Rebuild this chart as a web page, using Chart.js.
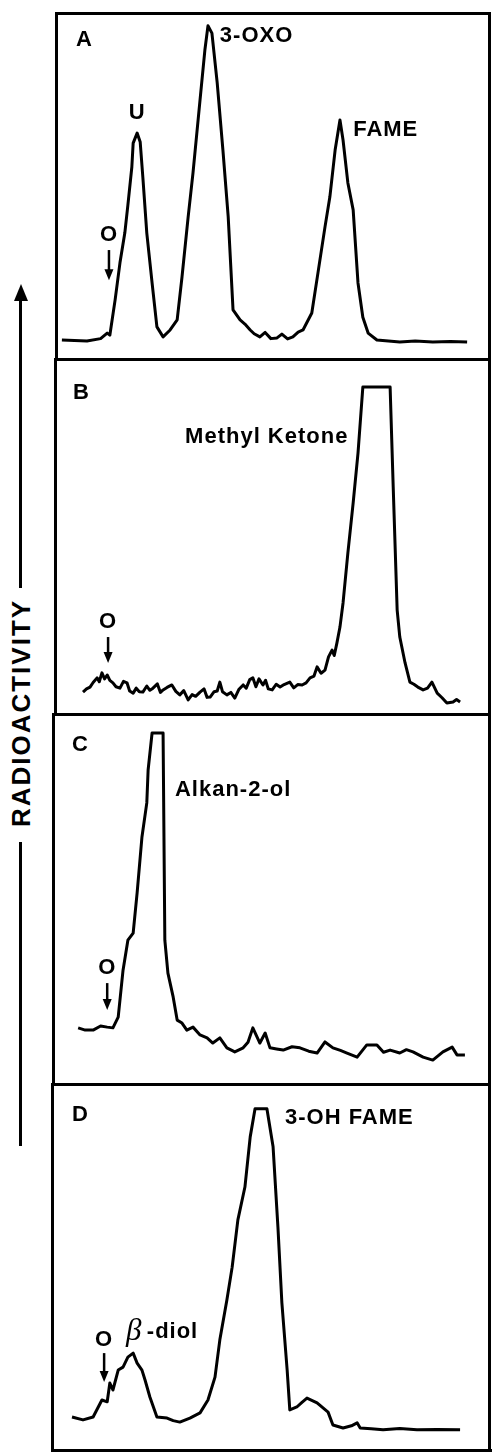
<!DOCTYPE html>
<html>
<head>
<meta charset="utf-8">
<script src="https://cdn.jsdelivr.net/npm/chart.js@4.4.0/dist/chart.umd.min.js"></script>
<style>
  body { margin: 0; background: #fff; width: 492px; height: 1454px; position: relative; overflow: hidden; }
  canvas { position: absolute; }
  .shaft { position: absolute; left: 19px; width: 3px; background: #000; }
  .head { position: absolute; left: 13.5px; top: 284px; width: 0; height: 0;
          border-left: 7px solid transparent; border-right: 7px solid transparent; border-bottom: 17px solid #000; }
  .ylabel { position: absolute; left: 21px; top: 713px; transform: translate(-50%, -50%) rotate(-90deg);
            font: bold 26px "Liberation Sans", Arial, sans-serif; letter-spacing: 2px; white-space: nowrap; color: #000; }
</style>
</head>
<body>

<div class="head"></div>
<div class="shaft" style="top:298px;height:290px"></div>
<div class="ylabel">RADIOACTIVITY</div>
<div class="shaft" style="top:842px;height:304px"></div>

<canvas id="panelA"></canvas>
<canvas id="panelB"></canvas>
<canvas id="panelC"></canvas>
<canvas id="panelD"></canvas>

<script>
/* radioactivity scans: x = distance migrated (0-100), y = relative counts (0-100 of panel) */

// A : U, 3-OXO, FAME
const aDist = [2.7, 8.4, 11.5, 13.0, 13.6, 14.8, 15.9, 17.0, 17.7, 18.6, 18.9, 19.8, 20.5, 21.1, 22.0, 23.2, 24.3, 25.7,
  27.3, 28.9, 30.0, 31.4, 32.5, 34.1, 35.2, 35.9, 36.8, 38.0, 39.3, 40.5, 41.6, 43.2, 44.3, 45.5, 46.4, 47.7, 48.9,
  50.2, 51.6, 52.7, 54.0, 55.2, 56.4, 57.5, 59.5, 60.9, 62.5, 63.6, 64.8, 65.9, 66.6, 67.7, 68.9, 70.0, 71.1, 72.3,
  74.3, 79.5, 83.0, 87.0, 91.0, 94.8];
const aCounts = [5.2, 4.9, 5.6, 7.2, 6.6, 16.8, 27.5, 36.1, 44.2, 55.2, 62.1, 65.0, 62.4, 52.3, 36.1, 21.7, 9.0, 6.1,
  8.1, 11.0, 23.4, 40.8, 53.5, 74.6, 89.0, 96.0, 93.9, 79.5, 60.1, 40.8, 13.9, 11.0, 9.8, 8.1, 7.0, 6.1, 7.4,
  5.6, 5.8, 6.9, 5.5, 6.1, 7.5, 8.1, 13.0, 24.6, 37.9, 46.5, 60.1, 68.8, 63.0, 50.6, 42.8, 21.7, 11.8, 7.2,
  5.2, 4.6, 4.9, 4.6, 4.8, 4.6];

// B : Methyl Ketone (off scale)
const bDist = [7.5, 8.3, 9.1, 9.8, 10.7, 11.2, 11.8, 12.4, 13.0, 13.6, 14.3, 15.0, 15.9, 16.7, 17.5, 18.1, 18.9, 19.6,
  20.3, 21.1, 22.0, 22.7, 23.4, 24.4, 25.1, 25.7, 26.6, 27.7, 28.6, 29.5, 30.4, 31.4, 32.3, 33.1, 34.1, 35.0, 35.7,
  36.4, 37.3, 38.0, 38.6, 39.2, 40.2, 41.1, 42.0, 42.9, 43.9, 44.6, 45.4, 46.1, 46.8, 47.5, 48.4, 49.0, 49.6, 50.5,
  51.4, 52.3, 53.2, 54.5, 55.4, 56.3, 57.3, 58.2, 59.1, 60.0, 60.7, 61.6, 62.5, 63.3, 64.1, 64.6, 65.2, 65.9, 66.6,
  67.7, 68.9, 70.0, 71.1, 77.3, 78.0, 78.9, 79.5, 80.7, 81.8, 82.7, 83.6, 84.8, 85.8, 86.8, 88.0, 89.1, 90.2, 91.6,
  92.4, 93.2];
const bCounts = [5.9, 6.8, 7.3, 8.6, 9.9, 8.8, 11.3, 9.6, 10.7, 9.2, 8.5, 7.4, 7.0, 8.9, 8.5, 6.2, 5.6, 7.0,
  6.0, 5.9, 7.6, 6.4, 7.0, 8.2, 5.8, 6.5, 7.2, 7.9, 6.1, 5.1, 6.3, 3.7, 5.2, 4.7, 5.9, 6.8, 4.4,
  4.5, 6.0, 6.2, 8.7, 6.0, 5.1, 5.8, 4.2, 6.6, 7.9, 7.0, 9.4, 9.9, 7.4, 9.6, 7.9, 9.2, 6.8, 6.5,
  8.1, 7.3, 8.0, 8.7, 7.1, 8.0, 7.9, 8.5, 9.9, 10.4, 13.0, 11.2, 12.1, 15.8, 17.7, 16.2, 19.7, 24.2, 31.0,
  45.1, 59.2, 73.2, 91.8, 91.8, 63.7, 29.0, 21.4, 14.1, 8.7, 8.1, 7.3, 6.5, 7.0, 8.7, 5.6, 4.3, 2.8, 3.1,
  3.8, 3.1];

// C : Alkan-2-ol (off scale)
const cDist = [6.4, 8.0, 9.8, 11.5, 13.0, 14.3, 15.5, 16.6, 17.7, 18.9, 19.8, 20.9, 22.0, 22.3, 23.2, 25.7, 26.1, 26.8,
  28.0, 28.9, 30.0, 31.1, 32.5, 34.1, 35.7, 37.0, 38.6, 40.2, 42.0, 43.9, 45.0, 46.1, 47.7, 48.9, 50.0, 51.5, 53.0,
  55.0, 56.8, 58.8, 60.7, 62.5, 64.3, 66.0, 67.5, 69.8, 72.0, 74.3, 75.8, 77.3, 79.5, 81.0, 82.5, 84.8, 87.0, 89.3,
  91.4, 92.5, 94.3];
const cCounts = [14.9, 14.3, 14.3, 15.4, 15.1, 14.9, 17.8, 30.5, 38.6, 40.5, 51.4, 66.5, 75.7, 84.6, 94.6, 94.6, 38.6, 29.7,
  23.2, 17.0, 16.2, 14.3, 15.1, 13.0, 12.2, 10.8, 12.2, 9.5, 8.4, 9.5, 11.0, 14.9, 10.8, 13.5, 9.5, 9.2, 8.9,
  9.8, 9.5, 8.6, 8.1, 11.1, 9.5, 8.8, 8.1, 7.0, 10.3, 10.3, 8.3, 8.9, 8.1, 9.0, 8.4, 7.0, 6.2, 8.4,
  9.7, 7.6, 7.6];

// D : beta-diol, 3-OH FAME (off scale)
const dDist = [5.0, 7.5, 9.8, 11.8, 13.0, 13.6, 14.3, 15.5, 16.6, 17.7, 18.9, 19.8, 20.9, 21.6, 22.7, 24.3, 26.6, 28.0,
  29.5, 31.8, 34.1, 35.9, 37.5, 38.6, 40.2, 41.4, 42.7, 44.3, 45.5, 46.6, 49.3, 50.7, 51.8, 52.7, 53.9, 54.5, 56.1,
  57.2, 58.4, 60.7, 63.2, 64.3, 66.6, 68.5, 69.8, 70.5, 73.0, 75.7, 79.5, 83.4, 88.0, 93.2];
const dCounts = [9.5, 8.7, 9.5, 14.1, 13.6, 18.7, 16.8, 22.2, 23.0, 25.7, 26.8, 24.1, 22.2, 19.5, 14.9, 9.5, 9.2, 8.5,
  8.1, 9.2, 10.6, 14.1, 20.3, 30.4, 41.2, 50.1, 62.9, 71.8, 85.4, 93.0, 93.0, 82.7, 61.0, 40.4, 22.2, 11.4, 12.2,
  13.4, 14.6, 13.3, 10.8, 7.3, 6.5, 7.1, 7.9, 6.5, 6.3, 6.0, 6.4, 6.0, 6.1, 6.0];

// panel boxes on the page
const panels = [
  { id: 'panelA', left: 55, top: 12, bottom: 358, x: aDist, y: aCounts, closeBottom: false,
    notes: [
      { t: 'A', x: 5.9, y: 91.9 },
      { t: '3-OXO', x: 38.6, y: 93.1 },
      { t: 'U', x: 19.8, y: 70.8, align: 'center' },
      { t: 'FAME', x: 68.9, y: 65.9 },
      { t: 'O', x: 13.4, y: 35.5, align: 'center' }
    ],
    arrow: { x: 13.4, from: 31.2, to: 22.5 } },
  { id: 'panelB', left: 54, top: 358, bottom: 713, x: bDist, y: bCounts, closeBottom: false,
    notes: [
      { t: 'B', x: 5.2, y: 90.1 },
      { t: 'Methyl Ketone', x: 30.7, y: 77.7 },
      { t: 'O', x: 13.2, y: 25.6, align: 'center' }
    ],
    arrow: { x: 13.2, from: 21.4, to: 14.1 } },
  { id: 'panelC', left: 52, top: 713, bottom: 1083, x: cDist, y: cCounts, closeBottom: false,
    notes: [
      { t: 'C', x: 5.0, y: 91.4 },
      { t: 'Alkan-2-ol', x: 28.4, y: 79.2 },
      { t: 'O', x: 13.0, y: 31.1, align: 'center' }
    ],
    arrow: { x: 13.0, from: 27.0, to: 19.7 } },
  { id: 'panelD', left: 51, top: 1083, bottom: 1452, x: dDist, y: dCounts, closeBottom: true,
    notes: [
      { t: 'D', x: 5.0, y: 91.3 },
      { t: '3-OH FAME', x: 53.4, y: 90.5 },
      { t: 'O', x: 12.3, y: 30.4, align: 'center' },
      { t: 'β', x: 17.3, y: 32.5, greek: true },
      { t: '-diol', x: 22.0, y: 32.5 }
    ],
    arrow: { x: 12.3, from: 26.8, to: 19.0 } }
];

const boxAndNotes = {
  id: 'boxAndNotes',
  afterDraw(chart, args, opts) {
    const c = chart.ctx;
    const sx = chart.scales.x, sy = chart.scales.y;
    const w = chart.width, h = chart.height;
    c.save();
    c.strokeStyle = '#000';
    c.fillStyle = '#000';
    c.lineWidth = 3;
    c.beginPath();
    c.moveTo(1.5, h); c.lineTo(1.5, 1.5); c.lineTo(w - 2.5, 1.5); c.lineTo(w - 2.5, h);
    if (opts.closeBottom) { c.moveTo(0, h - 1.5); c.lineTo(w, h - 1.5); }
    c.stroke();

    opts.notes.forEach(n => {
      c.font = n.greek ? 'italic 31px "Liberation Serif", serif' : 'bold 22px "Liberation Sans", Arial, sans-serif';
      c.letterSpacing = n.greek ? '0px' : '1px';
      c.textAlign = n.align || 'left';
      c.textBaseline = 'middle';
      c.fillText(n.t, sx.getPixelForValue(n.x), sy.getPixelForValue(n.y));
    });

    const a = opts.arrow;
    const ax = sx.getPixelForValue(a.x);
    const y1 = sy.getPixelForValue(a.from), y2 = sy.getPixelForValue(a.to);
    c.lineWidth = 2.5;
    c.beginPath(); c.moveTo(ax, y1); c.lineTo(ax, y2 - 8); c.stroke();
    c.beginPath(); c.moveTo(ax - 4.5, y2 - 11); c.lineTo(ax + 4.5, y2 - 11); c.lineTo(ax, y2); c.closePath(); c.fill();
    c.restore();
  }
};

panels.forEach(p => {
  const el = document.getElementById(p.id);
  el.width = 492 - p.left;
  el.height = p.bottom - p.top;
  el.style.left = p.left + 'px';
  el.style.top = p.top + 'px';
  new Chart(el, {
    type: 'line',
    data: {
      datasets: [{
        data: p.x.map((v, i) => ({ x: v, y: p.y[i] })),
        borderColor: '#000',
        borderWidth: 3,
        borderJoinStyle: 'round',
        pointRadius: 0,
        tension: 0,
        fill: false
      }]
    },
    options: {
      responsive: false,
      animation: false,
      layout: { padding: 0 },
      plugins: {
        legend: { display: false },
        tooltip: { enabled: false },
        boxAndNotes: { notes: p.notes, arrow: p.arrow, closeBottom: p.closeBottom }
      },
      scales: {
        x: { type: 'linear', display: false, min: (p.left - 50) / 4.4, max: (492 - 50) / 4.4 },
        y: { type: 'linear', display: false, min: 0, max: 100 }
      }
    },
    plugins: [boxAndNotes]
  });
});
</script>
</body>
</html>
